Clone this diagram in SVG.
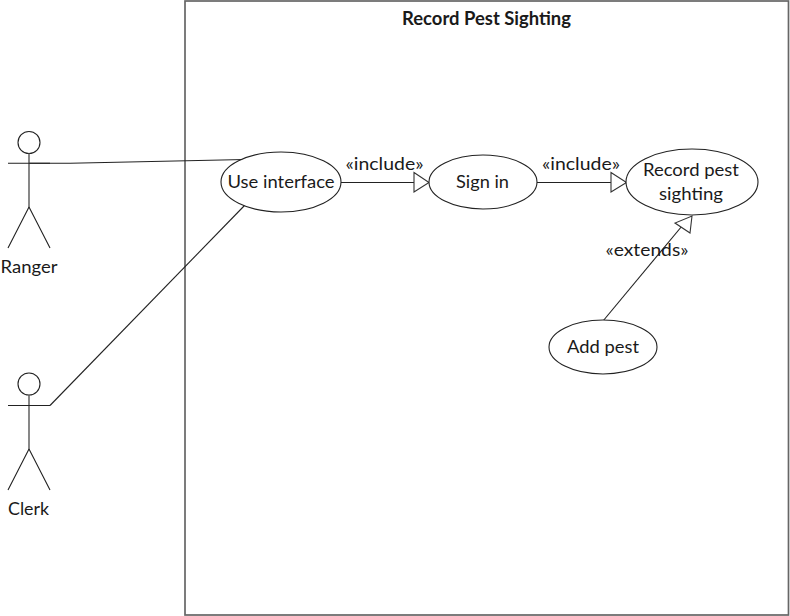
<svg xmlns="http://www.w3.org/2000/svg" width="790" height="616" viewBox="0 0 790 616">
<style>
.s{fill:none;stroke:#222;stroke-width:1.1}
.b{fill:none;stroke:#555;stroke-width:1.4}
.e{fill:#fff;stroke:#222;stroke-width:1.1}
.h{fill:#fff;stroke:#333;stroke-width:1.1}
text{font-family:"Lato","Liberation Sans",sans-serif;font-size:18px;fill:#1a1a1a;text-anchor:middle}
</style>
<rect width="790" height="616" fill="#fff"/>
<g id="boundary">
<rect x="185" y="1" width="603.500" height="614" fill="none" stroke="#666" stroke-width="1.7"/>
<text x="486.500" y="25" font-weight="bold" textLength="169" lengthAdjust="spacingAndGlyphs">Record Pest Sighting</text>
</g>
<g id="connectors">
<path class="s" d="M29 163.300L70 163.300L245 159.500"/>
<path class="s" d="M50 405.500L245 205"/>
<path class="s" d="M341 182.500H414"/>
<path class="s" d="M537 182.500H611"/>
<path class="s" d="M603 321L682 226"/>
<path class="h" d="M414 172.500L429 182.500L414 192z"/>
<path class="h" d="M611 172.500L626.500 182.500L611 192z"/>
<path class="h" d="M692 216L690 233L675 223z"/>
</g>
<g id="actor-ranger">
<circle class="s" cx="29" cy="142.500" r="11"/>
<path class="b" d="M29 153.500V207"/>
<path class="s" d="M8 163.300H50M29 207L8 248M29 207L50 248"/>
<text x="29" y="273" textLength="57" lengthAdjust="spacingAndGlyphs">Ranger</text>
</g>
<g id="actor-clerk">
<circle class="s" cx="29" cy="384" r="11"/>
<path class="b" d="M29 395V449"/>
<path class="s" d="M8 405.500H50M29 449L8 490M29 449L50 490"/>
<text x="28.500" y="514.500" textLength="41" lengthAdjust="spacingAndGlyphs">Clerk</text>
</g>
<g id="use-interface">
<ellipse class="e" cx="281" cy="182" rx="60" ry="30"/>
<text x="281" y="188" textLength="107" lengthAdjust="spacingAndGlyphs">Use interface</text>
</g>
<g id="sign-in">
<ellipse class="e" cx="483" cy="182" rx="54" ry="27"/>
<text x="482.500" y="188" textLength="53" lengthAdjust="spacingAndGlyphs">Sign in</text>
</g>
<g id="record-pest-sighting">
<ellipse class="e" cx="692" cy="182" rx="66" ry="33"/>
<text x="691" y="176" textLength="96" lengthAdjust="spacingAndGlyphs">Record pest</text>
<text x="691" y="200" textLength="64" lengthAdjust="spacingAndGlyphs">sighting</text>
</g>
<g id="add-pest">
<ellipse class="e" cx="603" cy="347" rx="54" ry="27"/>
<text x="603" y="353" textLength="72" lengthAdjust="spacingAndGlyphs">Add pest</text>
</g>
<g id="labels">
<text x="384.500" y="170" textLength="78" lengthAdjust="spacingAndGlyphs">«include»</text>
<text x="581" y="170" textLength="78" lengthAdjust="spacingAndGlyphs">«include»</text>
<text x="647" y="255.500" textLength="83" lengthAdjust="spacingAndGlyphs">«extends»</text>
</g>
</svg>
